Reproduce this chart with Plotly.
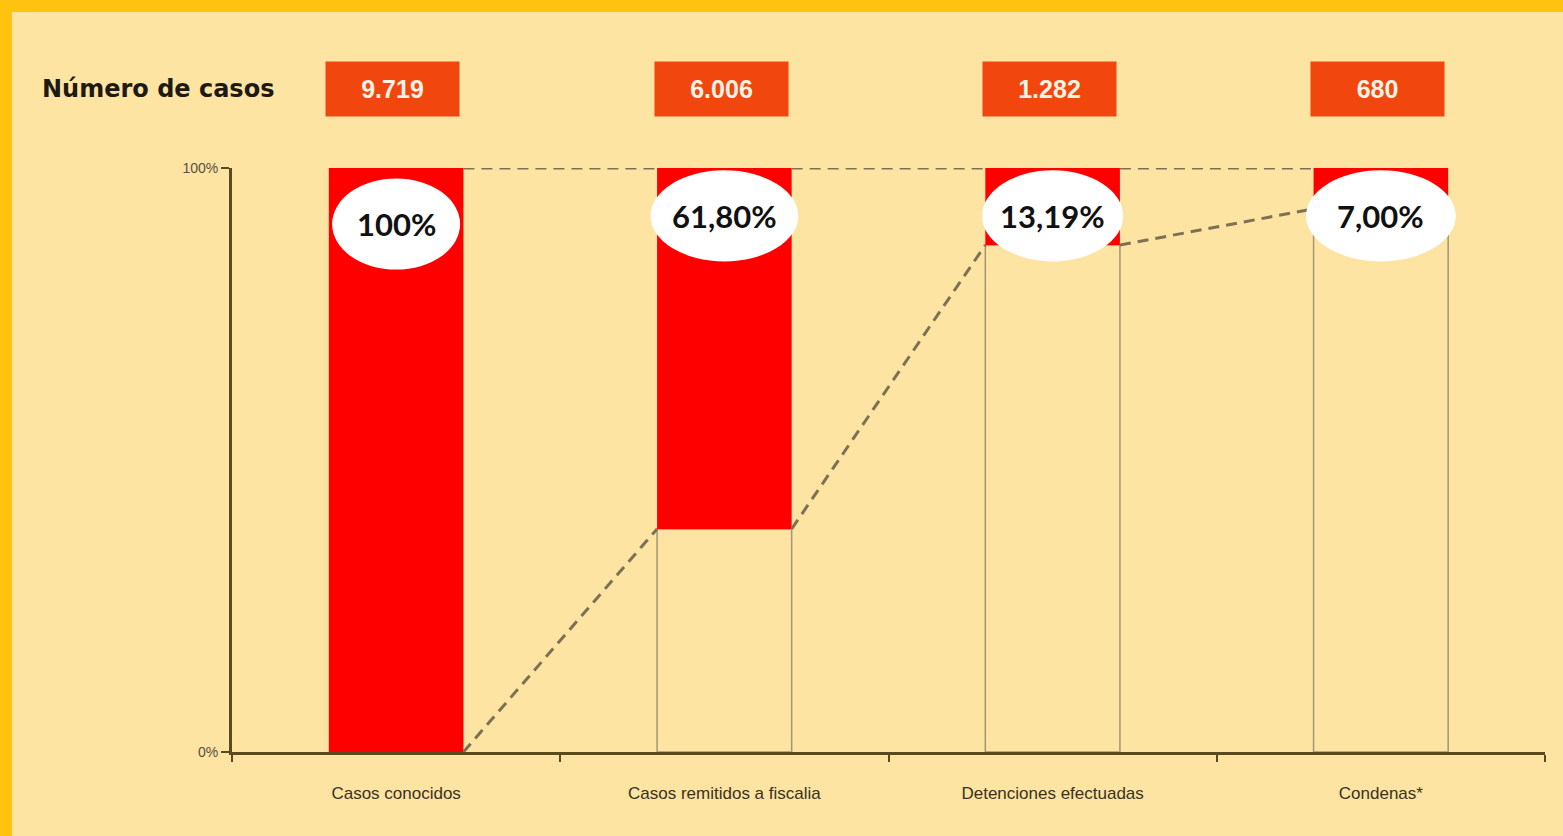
import plotly.graph_objects as go

categories = ["Casos conocidos", "Casos remitidos a fiscalía", "Detenciones efectuadas", "Condenas*"]
tick_labels = ["Casos conocidos", "Casos remitidos a fiscalia", "Detenciones efectuadas", "Condenas*"]
casos = ["9.719", "6.006", "1.282", "680"]
pct = [100.0, 61.80, 13.19, 7.00]
pct_labels = ["100%", "61,80%", "13,19%", "7,00%"]

BG = "#FDE4A2"
ORANGE = "#FFC20E"
RED = "#FF0000"
BOX = "#F2460F"
DASH = "#7E7052"
AXIS = "#5A4A1E"

W = 0.41
xs = list(range(len(categories)))
base = [100 - p for p in pct]

fig = go.Figure()

# outline (remaining) bars
fig.add_trace(go.Bar(
    x=xs, y=base, base=[0] * len(xs), width=W,
    marker=dict(color="rgba(0,0,0,0)", line=dict(color="#A39673", width=1.5)),
    hoverinfo="skip", showlegend=False))
# red bars
fig.add_trace(go.Bar(
    x=xs, y=pct, base=base, width=W,
    marker=dict(color=RED, line=dict(width=0)),
    hoverinfo="skip", showlegend=False))
fig.update_layout(barmode="overlay")

# dashed connectors between bars
cx, cy = [], []
for i in range(len(xs) - 1):
    cx += [xs[i] + W / 2, xs[i + 1] - W / 2, None]
    cy += [base[i], base[i + 1], None]
tx, ty = [], []
for i in range(len(xs) - 1):
    tx += [xs[i] + W / 2, xs[i + 1] - W / 2, None]
    ty += [100, 100, None]
fig.add_trace(go.Scatter(x=cx, y=cy, mode="lines", line=dict(color=DASH, width=3, dash="11px,7px"),
                         hoverinfo="skip", showlegend=False))
fig.add_trace(go.Scatter(x=tx, y=ty, mode="lines", line=dict(color=DASH, width=3, dash="11px,7px"),
                         hoverinfo="skip", showlegend=False))

shapes = []
annotations = []
# white ellipses with percentage labels
ews = [0.195, 0.225, 0.215, 0.228]
eh = 7.8
for i, x in enumerate(xs):
    yc = 90.4 if i == 0 else 91.8
    ew = ews[i]
    shapes.append(dict(type="circle", xref="x", yref="y", x0=x - ew, x1=x + ew,
                       y0=yc - eh, y1=yc + eh, fillcolor="white", line=dict(width=0), layer="above"))
    annotations.append(dict(x=x, y=yc, xref="x", yref="y", text=pct_labels[i], showarrow=False,
                            font=dict(family="Lato", size=31, color="#111111", weight="bold")))
    annotations.append(dict(x=x - 0.01, y=1.135, xref="x", yref="paper", yanchor="middle",
                            text=casos[i], showarrow=False,
                            bgcolor=BOX, width=129, height=50, borderpad=2,
                            font=dict(family="Liberation Sans", size=25, color="#FFF3E6", weight="bold")))

annotations.append(dict(x=-0.1462, y=1.135, xref="paper", yref="paper", xanchor="left", yanchor="middle",
                        text="Número de casos", showarrow=False,
                        font=dict(family="DejaVu Sans", size=24, color="#1E1A12", weight="bold")))

# orange frame
shapes.append(dict(type="rect", xref="paper", yref="paper", x0=-0.2, x1=1.05, y0=1.267, y1=1.32,
                   fillcolor=ORANGE, line=dict(width=0), layer="below"))
shapes.append(dict(type="rect", xref="paper", yref="paper", x0=-0.2, x1=-0.1676, y0=-0.2, y1=1.32,
                   fillcolor=ORANGE, line=dict(width=0), layer="below"))

fig.update_layout(
    width=1563, height=836,
    margin=dict(l=232, r=18, t=168, b=84),
    paper_bgcolor=BG, plot_bgcolor=BG,
    shapes=shapes, annotations=annotations,
    xaxis=dict(range=[-0.5, 3.5], tickvals=xs, ticktext=tick_labels, ticks="",
               showgrid=False, zeroline=False, showline=True, linecolor=AXIS, linewidth=3,
               ticklabelstandoff=24,
               tickfont=dict(family="Liberation Sans", size=17, color="#3A3220"),
               minor=dict(tickvals=[-0.5, 0.5, 1.5, 2.5, 3.5], ticks="outside", ticklen=7,
                          tickcolor=AXIS, tickwidth=2)),
    yaxis=dict(range=[0, 100], tickvals=[0, 100], ticktext=["0%", "100%"], ticks="outside",
               ticklen=8, tickcolor=AXIS, tickwidth=2,
               showgrid=False, zeroline=False, showline=True, linecolor=AXIS, linewidth=3,
               tickfont=dict(family="Liberation Sans", size=14, color="#5A5040")),
)

fig.write_html("out.html", config={"displayModeBar": False},
               post_script="document.body.style.margin='0';document.body.style.background='%s';" % BG)
